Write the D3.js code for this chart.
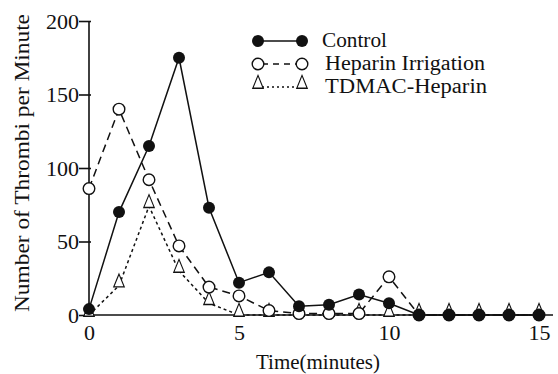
<!DOCTYPE html>
<html>
<head>
<meta charset="utf-8">
<script src="https://cdn.jsdelivr.net/npm/d3@7"></script>
<style>
  body { margin: 0; background: #fff; }
  svg text { font-family: 'Liberation Serif', 'DejaVu Serif', serif !important; fill: #111; }
</style>
</head>
<body>
<div id="chart"></div>
<script>
// time in minutes
const minutes = [0, 1, 2, 3, 4, 5, 6, 7, 8, 9, 10, 11, 12, 13, 14, 15];
const control = [4, 70, 115, 175, 73, 22, 29, 6, 7, 14, 8, 0, 0, 0, 0, 0];
const heparinIrrigation = [86, 140, 92, 47, 19, 13, 3, 1, 1, 1, 26, 0, 0, 0, 0, 0];
const tdmacHeparin = [0, 20, 74, 30, 8, 0, 0, 0, 0, 0, 0, 0, 0, 0, 0, 0];
const seriesNames = ['Control', 'Heparin Irrigation', 'TDMAC-Heparin'];
const xTicks = [0, 5, 10, 15];
const yTicks = [0, 50, 100, 150, 200];

const ink = '#111';
const serif = "'Liberation Serif', 'DejaVu Serif', serif";

const svg = d3
  .select('#chart')
  .append('svg')
  .attr('width', 558)
  .attr('height', 374);

const x = d3.scaleLinear().domain([0, 15]).range([89, 539]);
const y = d3.scaleLinear().domain([0, 200]).range([315, 21]);

// axes
const yAxis = svg
  .append('g')
  .attr('transform', `translate(${x(0)},0)`)
  .call(d3.axisLeft(y).tickValues(yTicks).tickSize(9).tickPadding(1));
yAxis.attr('font-family', serif);
yAxis.select('.domain').attr('stroke', ink).attr('stroke-width', 1.6).attr('d', `M0,${y(200)}V${y(0)}`);
yAxis.selectAll('.tick line').attr('stroke', ink).attr('stroke-width', 1.6).attr('x2', -10).attr('x1', 2);
yAxis
  .selectAll('.tick text')
  .attr('font-size', 21)
  .attr('fill', ink)
  .attr('dy', '0.34em')
  .attr('textLength', (d) => String(d).length * 11)
  .attr('lengthAdjust', 'spacingAndGlyphs');

const xAxis = svg
  .append('g')
  .attr('transform', `translate(0,${y(0)})`)
  .call(d3.axisBottom(x).tickValues(xTicks).tickSize(0).tickPadding(10));
xAxis.attr('font-family', serif);
xAxis.select('.domain').attr('stroke', ink).attr('stroke-width', 1.6).attr('d', `M${x(0)},0H553`);
xAxis
  .selectAll('.tick text')
  .attr('font-size', 21)
  .attr('fill', ink)
  .attr('textLength', (d) => String(d).length * 11)
  .attr('lengthAdjust', 'spacingAndGlyphs');

svg
  .append('text')
  .attr('x', 318)
  .attr('y', 369)
  .attr('text-anchor', 'middle')
  .attr('font-size', 22)
  .attr('textLength', 124)
  .attr('lengthAdjust', 'spacingAndGlyphs')
  .text('Time(minutes)');

svg
  .append('text')
  .attr('transform', 'translate(29,163) rotate(-90)')
  .attr('text-anchor', 'middle')
  .attr('font-size', 21)
  .attr('textLength', 298)
  .attr('lengthAdjust', 'spacingAndGlyphs')
  .text('Number of Thrombi per Minute');

// lines
const line = d3
  .line()
  .x((d, i) => x(minutes[i]))
  .y((d) => y(d));

const series = [
  { name: seriesNames[0], values: control, dash: null, marker: 'filled', width: 65 },
  { name: seriesNames[1], values: heparinIrrigation, dash: '8,5', marker: 'open', width: 160 },
  { name: seriesNames[2], values: tdmacHeparin, dash: '3,3', marker: 'triangle', width: 162 },
];

// draw the lower ones first so control stays on top
const order = [series[2], series[1], series[0]];

order.forEach((s) => {
  svg
    .append('path')
    .datum(s.values)
    .attr('d', line)
    .attr('fill', 'none')
    .attr('stroke', ink)
    .attr('stroke-width', 1.5)
    .attr('stroke-dasharray', s.dash);
});

const tri = d3.symbol().type(d3.symbolTriangle).size(66);

function drawMarker(g, kind, cx, cy) {
  if (kind === 'filled') {
    g.append('circle').attr('cx', cx).attr('cy', cy).attr('r', 6).attr('fill', ink);
  } else if (kind === 'open') {
    g.append('circle')
      .attr('cx', cx)
      .attr('cy', cy)
      .attr('r', 5.8)
      .attr('fill', '#fff')
      .attr('stroke', ink)
      .attr('stroke-width', 1.4);
  } else {
    g.append('path')
      .attr('d', tri)
      .attr('transform', `translate(${cx},${cy - 3}) scale(0.85,1.2)`)
      .attr('fill', '#fff')
      .attr('stroke', ink)
      .attr('stroke-width', 1.2);
  }
}

order.forEach((s) => {
  const g = svg.append('g');
  s.values.forEach((v, i) => drawMarker(g, s.marker, x(minutes[i]), y(v)));
});

// legend
const legend = svg.append('g');
series.forEach((s, i) => {
  const ly = 41 + i * 23;
  legend
    .append('line')
    .attr('x1', 262)
    .attr('x2', 298)
    .attr('y1', ly)
    .attr('y2', ly)
    .attr('stroke', ink)
    .attr('stroke-width', 1.4)
    .attr('stroke-dasharray', i === 0 ? null : i === 1 ? '6,5' : '2,3');
  drawMarker(legend, s.marker, 258, ly);
  drawMarker(legend, s.marker, 302, ly);
  legend
    .append('text')
    .attr('x', i === 0 ? 322 : 325)
    .attr('y', ly + 6)
    .attr('font-size', 20)
    .attr('textLength', s.width)
    .attr('lengthAdjust', 'spacingAndGlyphs')
    .text(s.name);
});
</script>
</body>
</html>
